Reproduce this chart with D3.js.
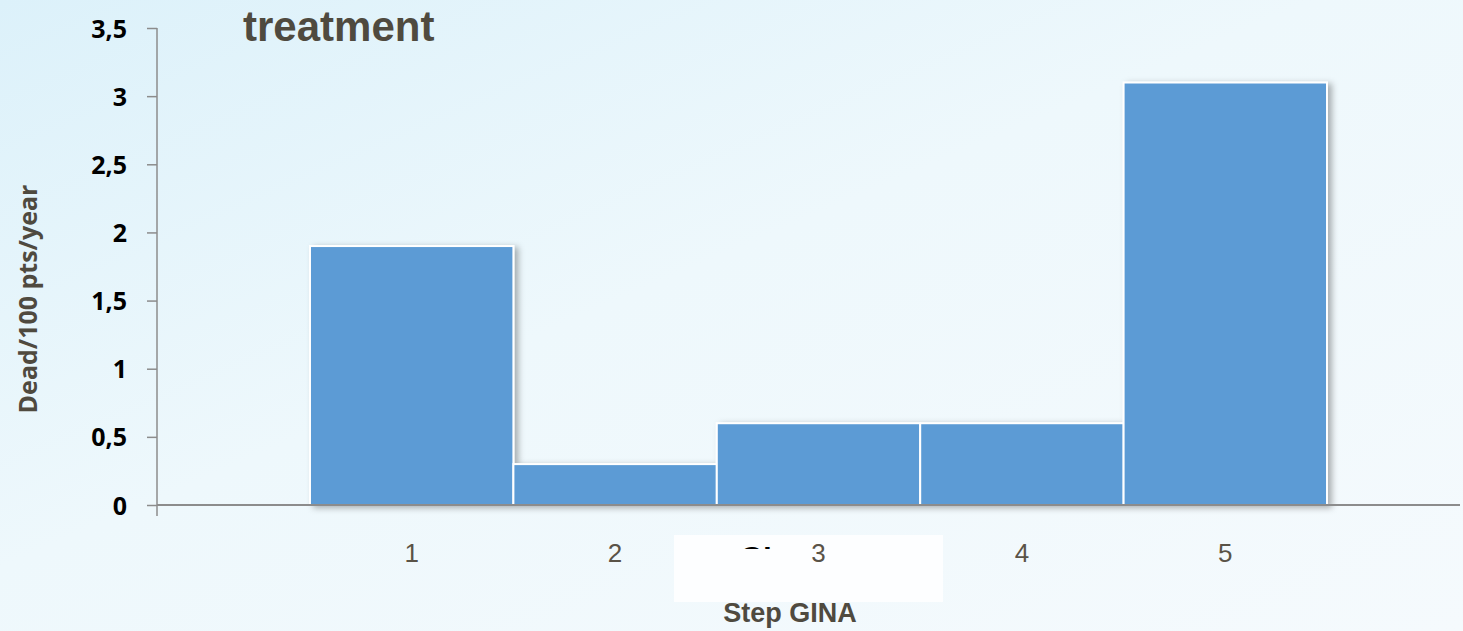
<!DOCTYPE html>
<html>
<head>
<meta charset="utf-8">
<script src="https://cdn.jsdelivr.net/npm/d3@7"></script>
<style>
  body { margin: 0; overflow: hidden; }
  text { font-family: "Liberation Sans", Arial, sans-serif; }
</style>
</head>
<body>
<script>
// data
const steps = ["1", "2", "3", "4", "5"];
const deaths = [1.9, 0.3, 0.6, 0.6, 3.1];
const yTicks = [0, 0.5, 1, 1.5, 2, 2.5, 3, 3.5];

// constants
const width = 1463;
const height = 631;
const axisX = 157;

const svg = d3.select("body").append("svg")
    .attr("width", width)
    .attr("height", height);

const defs = svg.append("defs");
const bg = defs.append("linearGradient")
    .attr("id", "bg")
    .attr("x1", "0%").attr("y1", "0%")
    .attr("x2", "100%").attr("y2", "100%");
bg.append("stop").attr("offset", "0%").attr("stop-color", "#dcf1fa");
bg.append("stop").attr("offset", "45%").attr("stop-color", "#eef8fc");
bg.append("stop").attr("offset", "100%").attr("stop-color", "#f5fafd");

defs.append("filter")
    .attr("id", "shadow")
    .attr("x", "-10%").attr("y", "-10%")
    .attr("width", "130%").attr("height", "130%")
  .append("feDropShadow")
    .attr("dx", 4).attr("dy", 2)
    .attr("stdDeviation", 3)
    .attr("flood-color", "#000")
    .attr("flood-opacity", 0.3);

defs.append("clipPath").attr("id", "giClip")
  .append("rect")
    .attr("x", 740).attr("y", 536)
    .attr("width", 44).attr("height", 13);

svg.append("rect")
    .attr("width", width)
    .attr("height", height)
    .attr("fill", "url(#bg)");

// Scales
const x = d3.scaleBand()
    .domain(steps)
    .range([310, 1327])
    .padding(0);

const y = d3.scaleLinear()
    .domain([0, 3.5])
    .range([505, 28]);

// white patch under labels
svg.append("rect")
    .attr("x", 674).attr("y", 535)
    .attr("width", 269).attr("height", 67)
    .attr("fill", "#fdfeff");

// cut-off heading remnant
svg.append("text")
    .attr("x", 740)
    .attr("y", 567)
    .attr("clip-path", "url(#giClip)")
    .style("font-size", "30px")
    .style("font-weight", "bold")
    .attr("fill", "#000")
    .text("GI");

// Bars
svg.append("g")
    .attr("filter", "url(#shadow)")
  .selectAll("rect")
  .data(deaths)
  .join("rect")
    .attr("x", (d, i) => x(steps[i]))
    .attr("y", d => y(d))
    .attr("width", x.bandwidth())
    .attr("height", d => y(0) - y(d))
    .attr("fill", "#5b9bd5")
    .attr("stroke", "#ffffff")
    .attr("stroke-width", 2);

// Y axis
const yAxis = svg.append("g")
    .attr("transform", `translate(${axisX},0)`)
    .call(d3.axisLeft(y)
        .tickValues(yTicks)
        .tickSize(10)
        .tickPadding(20)
        .tickFormat(d => String(d).replace(".", ",")));
yAxis.select(".domain")
    .attr("d", `M0,${y(3.5)}V${y(0) + 11}`)
    .attr("stroke", "#8c8c8c")
    .attr("stroke-width", 1.5);
yAxis.selectAll(".tick line").attr("stroke", "#8c8c8c").attr("stroke-width", 1.5);
yAxis.selectAll(".tick text")
    .attr("dy", "0.36em")
    .style("font-family", "'Open Sans', sans-serif")
    .style("font-size", "25px")
    .style("font-weight", "bold")
    .attr("fill", "#000");

// X axis
const xAxis = svg.append("g")
    .attr("transform", `translate(0,${y(0)})`)
    .call(d3.axisBottom(x).tickSize(0).tickPadding(39));
xAxis.select(".domain")
    .attr("d", `M${axisX},0H1460`)
    .attr("stroke", "#8c8c8c")
    .attr("stroke-width", 2);
xAxis.selectAll(".tick text")
    .style("font-size", "26px")
    .attr("fill", "#5a5347");

// Titles
svg.append("text")
    .attr("x", 243)
    .attr("y", 41)
    .style("font-size", "42px")
    .style("font-weight", "bold")
    .attr("fill", "#4f4a3f")
    .text("treatment");

svg.append("text")
    .attr("x", 790)
    .attr("y", 622)
    .attr("text-anchor", "middle")
    .style("font-size", "27px")
    .style("font-weight", "bold")
    .attr("fill", "#4f4a3f")
    .text("Step GINA");

svg.append("text")
    .attr("transform", "rotate(-90)")
    .attr("x", -299)
    .attr("y", 37)
    .attr("text-anchor", "middle")
    .style("font-family", "'Open Sans', sans-serif")
    .style("font-size", "25px")
    .style("font-weight", "bold")
    .attr("fill", "#4f4a3f")
    .text("Dead/100 pts/year");
</script>
</body>
</html>
